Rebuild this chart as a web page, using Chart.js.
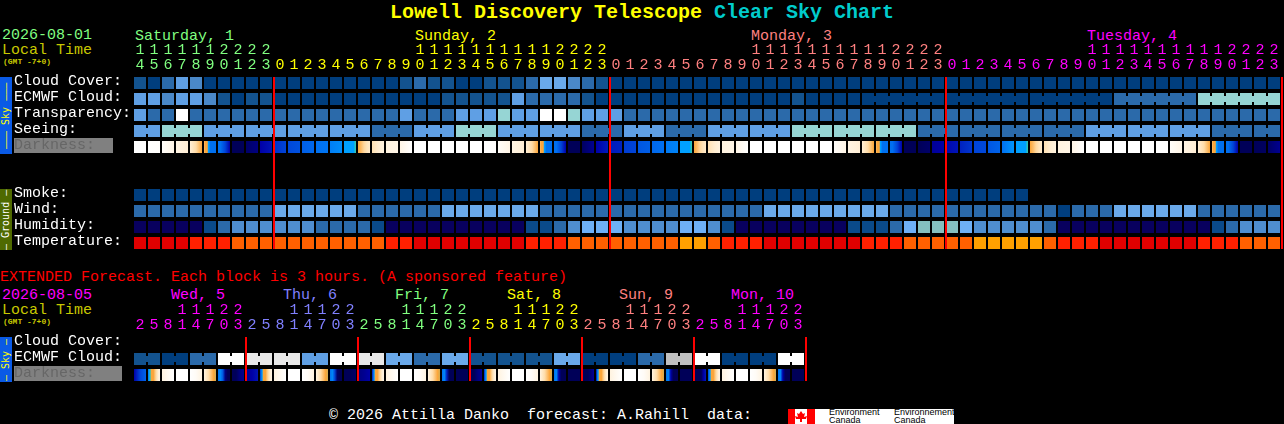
<!DOCTYPE html>
<html>
<head>
<meta charset="utf-8">
<script src="https://cdn.jsdelivr.net/npm/chart.js@4"></script>
<style>
  html, body { margin: 0; background: #000; width: 1284px; height: 424px; overflow: hidden; }
  canvas { position: absolute; left: 0; }
  .t { position: absolute; white-space: pre; font-family: "Liberation Mono", monospace; font-size: 15px; line-height: 15px; }
  .side { position: absolute; left: 0; width: 12px; writing-mode: vertical-rl; transform: rotate(180deg); text-align: center; white-space: pre;
          font-family: "DejaVu Sans Mono", monospace; font-size: 10px; line-height: 12px; }
  .box { position: absolute; background: #808080; }
</style>
</head>
<body>
<div class="t" style="left:390px;top:2px;font-size:20px;line-height:22px;font-weight:bold;color:#ffff00">Lowell Discovery Telescope</div>
<div class="t" style="left:714px;top:2px;font-size:20px;line-height:22px;font-weight:bold;color:#00cccc">Clear Sky Chart</div>

<div class="t" style="left:2px;top:28px;color:#80ff80">2026-08-01</div>
<div class="t" style="left:2px;top:43px;color:#c8c800">Local Time</div>
<div class="t" style="left:3px;top:58px;font-size:8px;line-height:8px;font-weight:bold;color:#c8c800">(GMT -7+0)</div>
<div class="t" style="left:135px;top:29px;color:#80ff80">Saturday, 1</div>
<div class="t" style="left:415px;top:29px;color:#ffff00">Sunday, 2</div>
<div class="t" style="left:751px;top:29px;color:#ff8080">Monday, 3</div>
<div class="t" style="left:1087px;top:29px;color:#ff00ff">Tuesday, 4</div>

<div class="side" style="top:77px;height:77px;background:#0a5ae6;color:#ffff00">––– Sky –––</div>
<div class="side" style="top:189px;height:61px;background:#4f6a00;color:#ffffff">– Ground –</div>
<div class="side" style="top:337px;height:45px;background:#0a5ae6;color:#ffff00">– Sky –</div>
<div class="box" style="left:14px;top:138px;width:99px;height:15px"></div>
<div class="box" style="left:14px;top:366px;width:108px;height:15px"></div>

<div class="t" style="left:0;top:270px;color:#ff0000">EXTENDED Forecast. Each block is 3 hours. (A sponsored feature)</div>
<div class="t" style="left:2px;top:288px;color:#ff00ff">2026-08-05</div>
<div class="t" style="left:2px;top:303px;color:#c8c800">Local Time</div>
<div class="t" style="left:3px;top:318px;font-size:8px;line-height:8px;font-weight:bold;color:#c8c800">(GMT -7+0)</div>
<div class="t" style="left:171px;top:288px;color:#ff00ff">Wed, 5</div>
<div class="t" style="left:283px;top:288px;color:#8080ff">Thu, 6</div>
<div class="t" style="left:395px;top:288px;color:#80ff80">Fri, 7</div>
<div class="t" style="left:507px;top:288px;color:#ffff00">Sat, 8</div>
<div class="t" style="left:619px;top:288px;color:#ff8080">Sun, 9</div>
<div class="t" style="left:731px;top:288px;color:#ff00ff">Mon, 10</div>

<canvas id="main" width="1284" height="251" style="top:0"></canvas>
<canvas id="ext" width="1284" height="121" style="top:262px"></canvas>

<div class="t" style="left:329px;top:408px;color:#ffffff">© 2026 Attilla Danko  forecast: A.Rahill  data:</div>
<div style="position:absolute;left:788px;top:409px;width:166px;height:15px;background:#fff;overflow:hidden">
  <svg width="27" height="15" style="position:absolute;left:0;top:0">
    <rect x="0" y="0" width="7" height="15" fill="#ff0000"></rect>
    <rect x="19" y="0" width="8" height="15" fill="#ff0000"></rect>
    <polygon fill="#ff0000" points="13,2 15,5 17,4 16,8 19,7 18,10 14,10 14,13 12,13 12,10 8,10 7,7 10,8 9,4 11,5"></polygon>
  </svg>
  <div style="position:absolute;left:41px;top:-1px;font:9px/8px 'Liberation Sans',sans-serif;color:#000">Environment<br>Canada</div>
  <div style="position:absolute;left:106px;top:-1px;font:9px/8px 'Liberation Sans',sans-serif;color:#000">Environnement<br>Canada</div>
</div>

<script>
// hourly block. codes index into the palettes below
const hours = [14,15,16,17,18,19,20,21,22,23,
  0,1,2,3,4,5,6,7,8,9,10,11,12,13,14,15,16,17,18,19,20,21,22,23,
  0,1,2,3,4,5,6,7,8,9,10,11,12,13,14,15,16,17,18,19,20,21,22,23,
  0,1,2,3,4,5,6,7,8,9,10,11,12,13,14,15,16,17,18,19,20,21,22,23];
const dayEnds = [10,34,58,82];
const dayColors = ['#80ff80','#ffff00','#ff8080','#ff00ff'];

const rowNames = ['Cloud Cover:','ECMWF Cloud:','Transparency:','Seeing:','Darkness:','','','Smoke:','Wind:','Humidity:','Temperature:'];

const cloud = [1,0,2,4,3,0,0,0,0,0,0,0,0,0,0,0,0,0,0,1,2,1,1,0,0,1,1,1,2,5,5,3,2,1,
  0,0,0,0,0,0,0,0,0,0,0,0,0,0,0,0,0,0,0,0,0,0,0,0,0,0,0,0,0,0,0,0,0,0,0,0,0,0,0,0,0,0,0,0,0,0,0,0];
const ecmwf = [4,4,3,4,4,3,1,0,1,1,0,0,0,0,0,0,0,0,0,0,0,0,1,1,1,1,1,4,2,2,2,2,1,0,
  0,0,0,0,0,0,0,0,0,0,0,0,0,1,0,0,0,0,0,0,0,0,0,0,0,0,0,0,0,0,0,0,0,0,0,0,2,2,2,2,2,2,6,6,6,6,6,6];
const ecmwfRuns = [1,1,1,1,1,1,1,1,1,1,1,1,1,1,1,1,1,1,1,1,1,1,1,1,1,1,1,1,1,1,1,1,1,1,
  1,1,1,1,1,1,1,1,1,1,1,1,1,1,1,1,1,1,6,6,6,6,6];
const transparency = [4,2,2,7,2,2,2,2,2,2,2,2,2,2,2,2,2,2,2,4,2,2,2,4,4,4,6,4,4,7,7,6,4,4,4,
  2,2,2,2,2,2,2,2,2,2,2,2,2,2,2,2,2,2,2,2,2,2,2,2,2,2,2,2,2,2,2,2,2,2,2,2,2,2,2,2,2,2,2,2,2,2,2];
const seeing = [4,4,6,6,6,4,4,4,4,4,4,4,4,4,4,4,4,2,2,2,4,4,4,6,6,6,4,4,4,4,4,4,2,2,2,4,4,4,2,2,2,
  4,4,4,4,4,4,6,6,6,6,6,6,6,6,6,2,2,2,2,2,2,2,2,2,2,2,2,4,4,4,4,4,4,4,4,4,2,2,2,2,2];
const seeingRuns = [2,3,3,3,3,3,3,3,3,3,3,3,3,3,3,3,3,3,3,3,3,3,3,3,3,3,3,2];
const smoke = [0,0,0,0,0,0,0,0,0,0,0,0,0,0,0,0,0,0,0,0,0,0,0,0,0,0,0,0,0,0,0,0,
  0,0,0,0,0,0,0,0,0,0,0,0,0,0,0,0,0,0,0,0,0,0,0,0,0,0,0,0,0,0,0,0];
const wind = [2,2,2,2,2,2,2,2,2,2,5,5,5,5,5,5,2,2,2,2,2,2,5,5,5,5,5,5,5,2,2,2,2,2,2,2,2,2,2,2,2,2,2,2,2,
  5,5,5,5,5,5,5,5,5,2,2,2,2,2,2,2,2,2,2,2,2,0,2,2,2,5,5,5,5,5,5,2,2,2,2,2,2];
const humidity = [0,0,0,0,0,1,2,3,3,3,3,3,3,2,2,2,2,1,0,0,0,0,0,0,0,0,0,0,1,1,2,3,4,4,4,3,3,3,3,4,4,3,1,
  0,0,0,0,0,0,0,0,1,1,1,2,4,5,5,5,4,3,3,3,3,3,2,0,0,0,0,0,0,0,0,0,0,0,1,2,3,3,3];
const temperature = [0,0,0,0,1,1,1,2,2,2,2,2,2,2,2,2,2,2,1,1,0,0,0,0,0,0,0,0,1,1,1,2,2,2,2,2,2,2,2,3,3,2,1,1,1,
  0,0,0,0,0,0,0,1,1,1,2,2,2,2,2,3,3,3,3,3,2,1,1,1,0,0,0,0,0,0,0,1,1,1,2,2,2];

// darkness: sky level samples across each block, 0 = daylight .. 9 = dark sky
const darkness = [
  [0,0],[0,.1],[.2,.8],[.9,1.2],[1.2,2,3],
  [2.5,3,3,3,5,5.5,6,6,6,6,6,6],[6,6,6.5,7,7.5,8],[9,9],[8.8,8.5],[8,7.7],
  [7.3,7],[6.9,6.7],[6.4,6.2],[6,5.9],[5.7,5.4],[5,5,5,5,5,5,5,5,5,5,4.2,4],
  [3,2.6,2.1,1.7,1.4],[1.8,1.3,1],[1,.8],[.8,.4,0],
  [0,0],[0,0],[0,0],[0,0],[0,0],[0,.1],[.2,.8],[.9,1.2],[1.2,2,3],
  [2.5,3,3,3,5,5.5,6,6,6,6,6,6],[6,6,6.5,7,7.5,8],[9,9],[8.9,8.3],[8,7.6],
  [7.6,7.5],[7.1,7],[6.6,6.4],[6.2,6],[5.8,5.6],[5,5,5,5,5,5,5,5,5,5,4.2,4],
  [3,2.6,2.1,1.7,1.4],[1.8,1.3,1],[1,.8],[.8,.4,0],
  [0,0],[0,0],[0,0],[0,0],[0,0],[0,0],[.2,.8],[.9,1.2],[1.2,2,3],
  [2.5,3,3,3,5,5.5,6,6,6,6,6,6],[6,6,6.5,7,7.5,8],[9,9],[9,8.8],[8.2,8],
  [7.9,7.7],[7.5,7.2],[7,6.9],[6.6,6.3],[6,5.2],[5,5,5,5,5,5,5,5,5,5,4.2,4],
  [3,2.6,2.1,1.7,1.4],[1.8,1.3,1],[1,.8],[.8,.4,0],
  [0,0],[0,0],[0,0],[0,0],[0,0],[0,0],[.2,.8],[.9,1.2],[1.2,2,3],
  [2.5,3,3,3,5,5.5,6,6,6,6,6,6],[6,6,6.5,7,7.5,8],[9,9],[9,8.9],[8.8,8.3]
];

// extended block, 3 hours each
const extHours = [2,5,8,11,14,17,20,23, 2,5,8,11,14,17,20,23, 2,5,8,11,14,17,20,23,
  2,5,8,11,14,17,20,23, 2,5,8,11,14,17,20,23, 2,5,8,11,14,17,20,23];
const extDayEnds = [8,16,24,32,40,48];
const extDayColors = ['#ff00ff','#8080ff','#80ff80','#ffff00','#ff8080','#ff00ff'];
const extRowNames = ['Cloud Cover:','ECMWF Cloud:','Darkness:'];
const extEcmwf = [1,1,0,0,2,2,7,7,8,8,8,8,4,4,7,7,8,8,5,5,2,2,5,5,
  1,1,1,1,1,1,5,5,0,0,0,0,2,2,9,9,7,7,0,0,0,0,7,7];
const extRuns = [2,2,2,2,2,2,2,2,2,2,2,2,2,2,2,2,2,2,2,2,2,2,2,2];
const extDarkness = [
  [8,7,6.3],[6,5,4.2,3,3,3,2.6,2.2,1.8,1.4,1,1],[1,.5,0],[0,0],[0,.3,1],[1,1.5,2,2.5,3,3.2],[6,5.5,6.5,8.5,9,9],[9,9,8.5,8.3],
  [8.3,8,7.7],[7,6,5,3,3,3,2.6,2.2,1.8,1.4,1,1],[1,.5,0],[0,0],[0,.3,1],[1,1.5,2,2.5,3,3.2],[6,5.5,7,8.8,9,9],[9,9,8.8],
  [8.5,8.3,8],[7.5,6.5,5,3,3,3,2.6,2.2,1.8,1.4,1,1],[1,.5,0],[0,0],[0,.3,1],[1,1.5,2,2.5,3,3.2],[6,5.5,7.5,9,9,9],[9,9,9],
  [9,9,8.5,8.2],[7.5,6,5,3,3,3,2.6,2.2,1.8,1.4,1,1],[1,.5,0],[0,0],[0,.3,1],[1,1.5,2,2.5,3,3.2],[6,5.5,8,9,9,9],[9,9,9],
  [9,9,9,8.6,8.2],[8,6,5,3,3,3,2.6,2.2,1.8,1.4,1,1],[1,.5,0],[0,0],[0,.3,1],[1,1.5,2,2.5,3,3.2],[6,5.5,8,9,9,9],[9,9,9],
  [9,9,9,9,8,7.6],[7,6,5,3,3,3,2.6,2.2,1.8,1.4,1,1],[1,.5,0],[0,0],[0,.3,1],[1,1.5,2,2.5,3,3.2],[6,5.5,8,9,9,9],[9,9,9]
];

// palettes
const cloudColors = ['#003e7e','#13538f','#2b6aaa','#4a88c8','#5f9fe4','#6aa9ea','#96d5d4','#ffffff','#e8e8e8','#c0c0c0'];
const humidityColors = ['#08005e','#0a4a8a','#2b6aaa','#4f8ed0','#6eb0f6','#84bfbf'];
const tempColors = ['#e00000','#ff2000','#ff6000','#ffa000'];
const darkColors = ['#ffffff','#fff3e0','#ffdca8','#fba63a','#30c8b0','#00a0ff','#0070f0','#0044d8','#0000a8','#000058'];

const MONO = '"Liberation Mono", monospace';
const CELL = 12, PITCH = 14, ROW = 16;
const cellX = i => i + CELL / 2 / PITCH;
const gapX = i => i + (CELL + 1) / PITCH;   // gap after block i
const TOP = 2 / ROW, BOT = 14 / ROW;

function hexRgb(h) { return [1, 3, 5].map(p => parseInt(h.substr(p, 2), 16)); }
function levelColor(l) {
  const a = Math.floor(l), b = Math.min(a + 1, darkColors.length - 1), f = l - a;
  const ca = hexRgb(darkColors[a]), cb = hexRgb(darkColors[b]);
  return 'rgb(' + ca.map((v, k) => Math.round(v + (cb[k] - v) * f)).join(',') + ')';
}

function cellRow(row, vals, colors) {
  return {
    data: vals.map((v, i) => ({ x: cellX(i), y: [row + TOP, row + BOT] })),
    backgroundColor: vals.map(v => colors[v]),
    barThickness: CELL
  };
}

// little bridges between blocks that belong to one forecast period
function linkRow(row, vals, runs, colors) {
  const data = [], bg = [];
  let i = 0;
  runs.forEach(n => {
    for (let k = 0; k < n - 1; k++) {
      data.push({ x: gapX(i + k), y: [row + 5 / ROW, row + 11 / ROW] });
      bg.push(colors[vals[i + k]]);
    }
    i += n;
  });
  return { data: data, backgroundColor: bg, barThickness: PITCH - CELL };
}

function darkRow(row, samples) {
  return {
    data: samples.map((s, i) => ({ x: cellX(i), y: [row + TOP, row + BOT] })),
    barThickness: CELL,
    backgroundColor: c => {
      const x0 = c.chart.scales.x ? c.chart.scales.x.getPixelForValue(c.dataIndex) : NaN;
      if (!isFinite(x0)) return '#000';
      const g = c.chart.ctx.createLinearGradient(x0, 0, x0 + CELL, 0);
      const s = samples[c.dataIndex];
      s.forEach((l, k) => g.addColorStop(k / (s.length - 1), levelColor(l)));
      return g;
    }
  };
}

function dayLines(ends, lastRow) {
  return {
    data: ends.map(x => ({ x: x, y: [TOP, lastRow - TOP] })),
    backgroundColor: '#ff0000',
    barThickness: 2,
    clip: false
  };
}

function drawChart(id, o) {
  const colorAt = i => o.dayColors[o.dayEnds.findIndex(e => i < e)];
  new Chart(document.getElementById(id), {
    type: 'bar',
    data: { datasets: o.datasets },
    options: {
      responsive: false,
      animation: false,
      events: [],
      devicePixelRatio: 1,
      layout: { padding: { left: 14, right: 1284 - (134 + o.cols * PITCH) } },
      datasets: { bar: { grouped: false, inflateAmount: 0, borderWidth: 0 } },
      plugins: { legend: { display: false }, tooltip: { enabled: false } },
      scales: {
        x: {
          type: 'linear',
          position: 'top',
          min: 0,
          max: o.cols,
          offset: false,
          grid: { display: false, drawTicks: false, offset: false },
          border: { display: false },
          afterBuildTicks: s => { s.ticks = o.hours.map((h, i) => ({ value: cellX(i) })); },
          afterFit: s => { s.height = o.axisH; },
          ticks: {
            autoSkip: false,
            maxRotation: 0,
            padding: 2,
            font: { family: MONO, size: 15, lineHeight: 1 },
            color: c => colorAt(c.index),
            callback: (v, i) => [o.hours[i] > 9 ? String(Math.floor(o.hours[i] / 10)) : ' ', String(o.hours[i] % 10)]
          }
        },
        y: {
          type: 'linear',
          reverse: true,
          min: 0,
          max: o.rows.length,
          grid: { display: false, drawTicks: false },
          border: { display: false },
          // row names sit a little above the middle of their blocks
          afterBuildTicks: s => { s.ticks = o.rows.map((r, i) => ({ value: i + 6 / ROW })); },
          afterFit: s => { s.width = 120; s.paddingTop = 0; s.paddingBottom = 0; },
          ticks: {
            autoSkip: false,
            crossAlign: 'far',
            padding: 0,
            font: { family: MONO, size: 15, lineHeight: 1 },
            color: c => o.rows[c.index] === 'Darkness:' ? '#666666' : '#ffffff',
            callback: (v, i) => o.rows[i]
          }
        }
      }
    }
  });
}

drawChart('main', {
  cols: hours.length, hours: hours, dayEnds: dayEnds, dayColors: dayColors, rows: rowNames, axisH: 75,
  datasets: [
    dayLines(dayEnds, rowNames.length),
    cellRow(0, cloud, cloudColors),
    cellRow(1, ecmwf, cloudColors), linkRow(1, ecmwf, ecmwfRuns, cloudColors),
    cellRow(2, transparency, cloudColors),
    cellRow(3, seeing, cloudColors), linkRow(3, seeing, seeingRuns, cloudColors),
    darkRow(4, darkness),
    cellRow(7, smoke, cloudColors),
    cellRow(8, wind, cloudColors),
    cellRow(9, humidity, humidityColors),
    cellRow(10, temperature, tempColors)
  ]
});

drawChart('ext', {
  cols: extHours.length, hours: extHours, dayEnds: extDayEnds, dayColors: extDayColors, rows: extRowNames, axisH: 73,
  datasets: [
    dayLines(extDayEnds, extRowNames.length),
    cellRow(1, extEcmwf, cloudColors), linkRow(1, extEcmwf, extRuns, cloudColors),
    darkRow(2, extDarkness)
  ]
});
</script>
</body>
</html>
